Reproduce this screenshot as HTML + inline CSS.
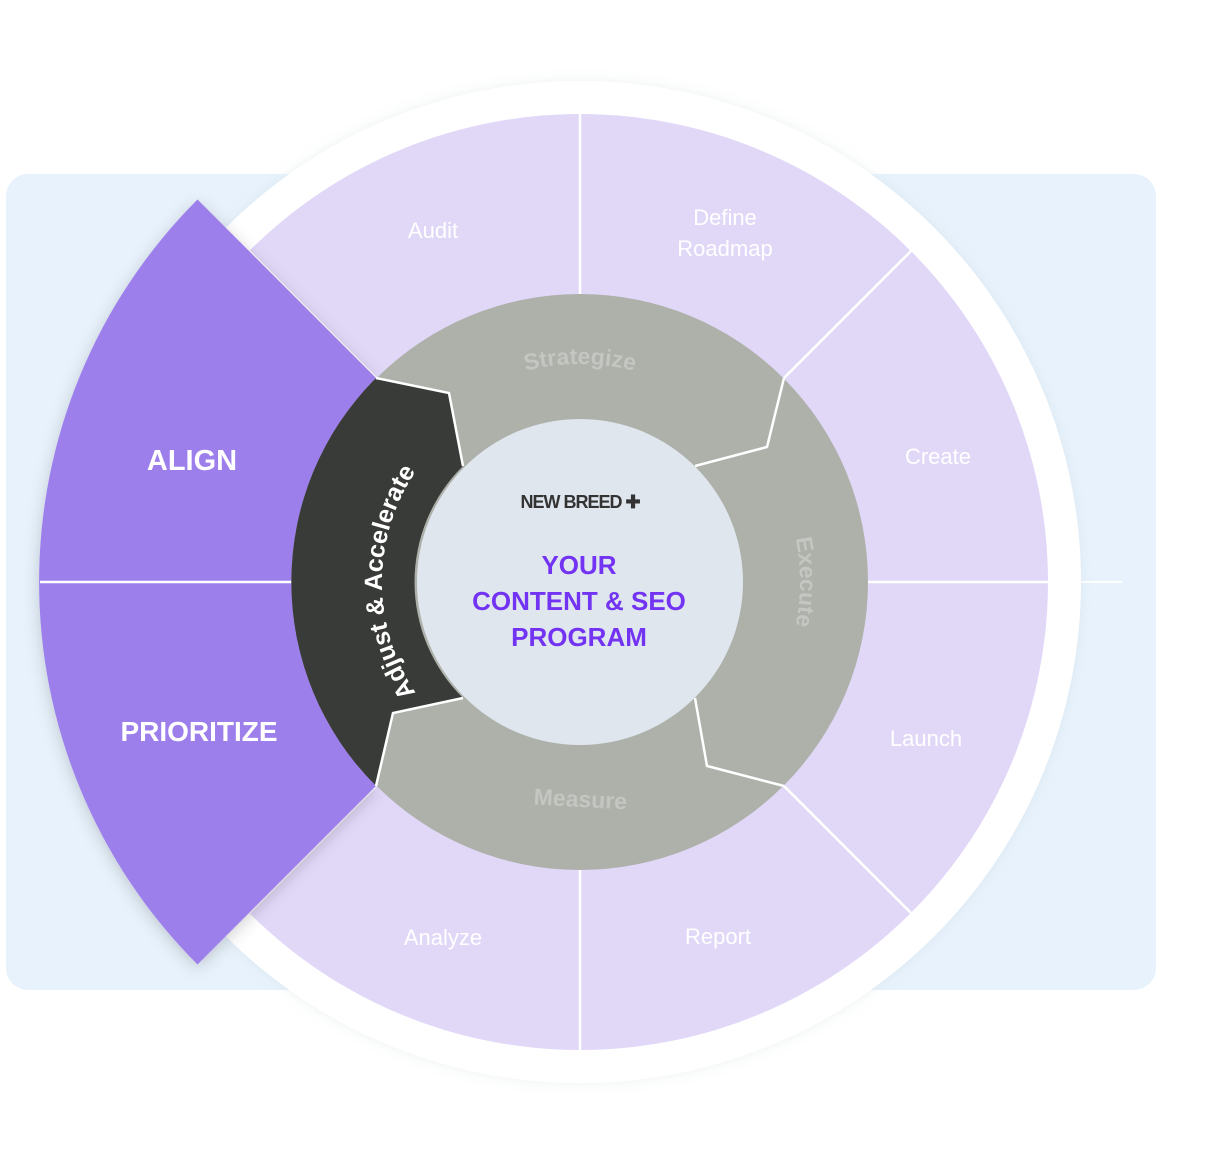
<!DOCTYPE html>
<html><head><meta charset="utf-8"><style>
html,body{margin:0;padding:0;background:#fff;}
svg{display:block;}
text{font-family:"Liberation Sans",sans-serif;}
</style></head><body>
<svg width="1228" height="1165" viewBox="0 0 1228 1165" xmlns="http://www.w3.org/2000/svg">
<defs>
<filter id="sh" x="-20%" y="-20%" width="140%" height="140%"><feDropShadow dx="0" dy="4" stdDeviation="8" flood-color="#000" flood-opacity="0.18"/></filter>
<filter id="sh2" x="-20%" y="-20%" width="140%" height="140%"><feDropShadow dx="0" dy="0" stdDeviation="6" flood-color="#8aa" flood-opacity="0.15"/></filter>
<path id="arcTop" d="M 362 582 A 218 218 0 0 1 798 582"/>
<path id="arcRight" d="M 580 362 A 218 218 0 0 1 580 802"/>
<path id="arcLeft" d="M 580 780 A 198 198 0 0 1 580 384"/>
</defs>
<rect x="6" y="174" width="1150" height="816" rx="22" fill="#e8f2fc"/>
<line x1="1050" y1="582" x2="1122" y2="582" stroke="#fff" stroke-width="2"/>
<circle cx="580" cy="582" r="501" fill="#fff" filter="url(#sh2)"/>
<circle cx="580" cy="582" r="468" fill="#e1d8f8"/>
<g stroke="#fff" stroke-width="2.5">
<line x1="580" y1="114" x2="580" y2="294"/>
<line x1="580" y1="870" x2="580" y2="1050"/>
<line x1="868" y1="582" x2="1048" y2="582"/>
<line x1="784" y1="378" x2="911" y2="251"/>
<line x1="784" y1="786" x2="911" y2="913"/>
<line x1="376" y1="378" x2="249" y2="251"/>
<line x1="376" y1="786" x2="249" y2="913"/>
</g>
<path d="M 197.5 199.5 A 541 541 0 0 0 197.5 964.5 L 376 786 A 288 288 0 0 1 376 378 Z" fill="#9d7fec" filter="url(#sh)"/>
<line x1="40" y1="582" x2="292" y2="582" stroke="#fff" stroke-width="2.5"/>
<circle cx="580" cy="582" r="288" fill="#adb1aa"/>
<path d="M 376 378 L 449 393 L 463 466 A 163 163 0 0 0 463 698 L 393 713 L 376 786 A 288 288 0 0 1 376 378 Z" fill="#393b38"/>
<g fill="none" stroke="#fff" stroke-width="2.5">
<polyline points="376,378 449,393 463,466"/>
<polyline points="376,786 393,713 463,698"/>
<polyline points="784,378 767,447 695,466"/>
<polyline points="784,786 707,766 695,698"/>
</g>
<circle cx="580" cy="582" r="163" fill="#dfe6ee"/>
<g fill="#fff" font-size="22" text-anchor="middle">
<text x="433" y="238">Audit</text>
<text x="725" y="225">Define</text>
<text x="725" y="256">Roadmap</text>
<text x="938" y="464">Create</text>
<text x="926" y="746">Launch</text>
<text x="443" y="945">Analyze</text>
<text x="718" y="944">Report</text>
</g>
<g fill="#fff" font-weight="bold" text-anchor="middle">
<text x="192" y="470" font-size="29">ALIGN</text>
<text x="199" y="741" font-size="28">PRIORITIZE</text>
</g>
<g font-weight="bold" font-size="23" fill="#c3c6c1">
<text><textPath href="#arcTop" startOffset="50%" text-anchor="middle">Strategize</textPath></text>
<text><textPath href="#arcRight" startOffset="50%" text-anchor="middle">Execute</textPath></text>
<text transform="translate(580,807) rotate(3)" text-anchor="middle" font-size="23">Measure</text>
</g>
<text fill="#fff" font-weight="bold" font-size="25"><textPath href="#arcLeft" startOffset="50%" text-anchor="middle">Adjust &amp; Accelerate</textPath></text>
<text x="580" y="508" text-anchor="middle" font-size="18" font-weight="bold" fill="#333" letter-spacing="-1">NEW BREED ✚</text>
<g fill="#7333f2" font-weight="bold" font-size="26" text-anchor="middle">
<text x="579" y="574">YOUR</text>
<text x="579" y="610">CONTENT &amp; SEO</text>
<text x="579" y="646">PROGRAM</text>
</g>
</svg>
</body></html>
